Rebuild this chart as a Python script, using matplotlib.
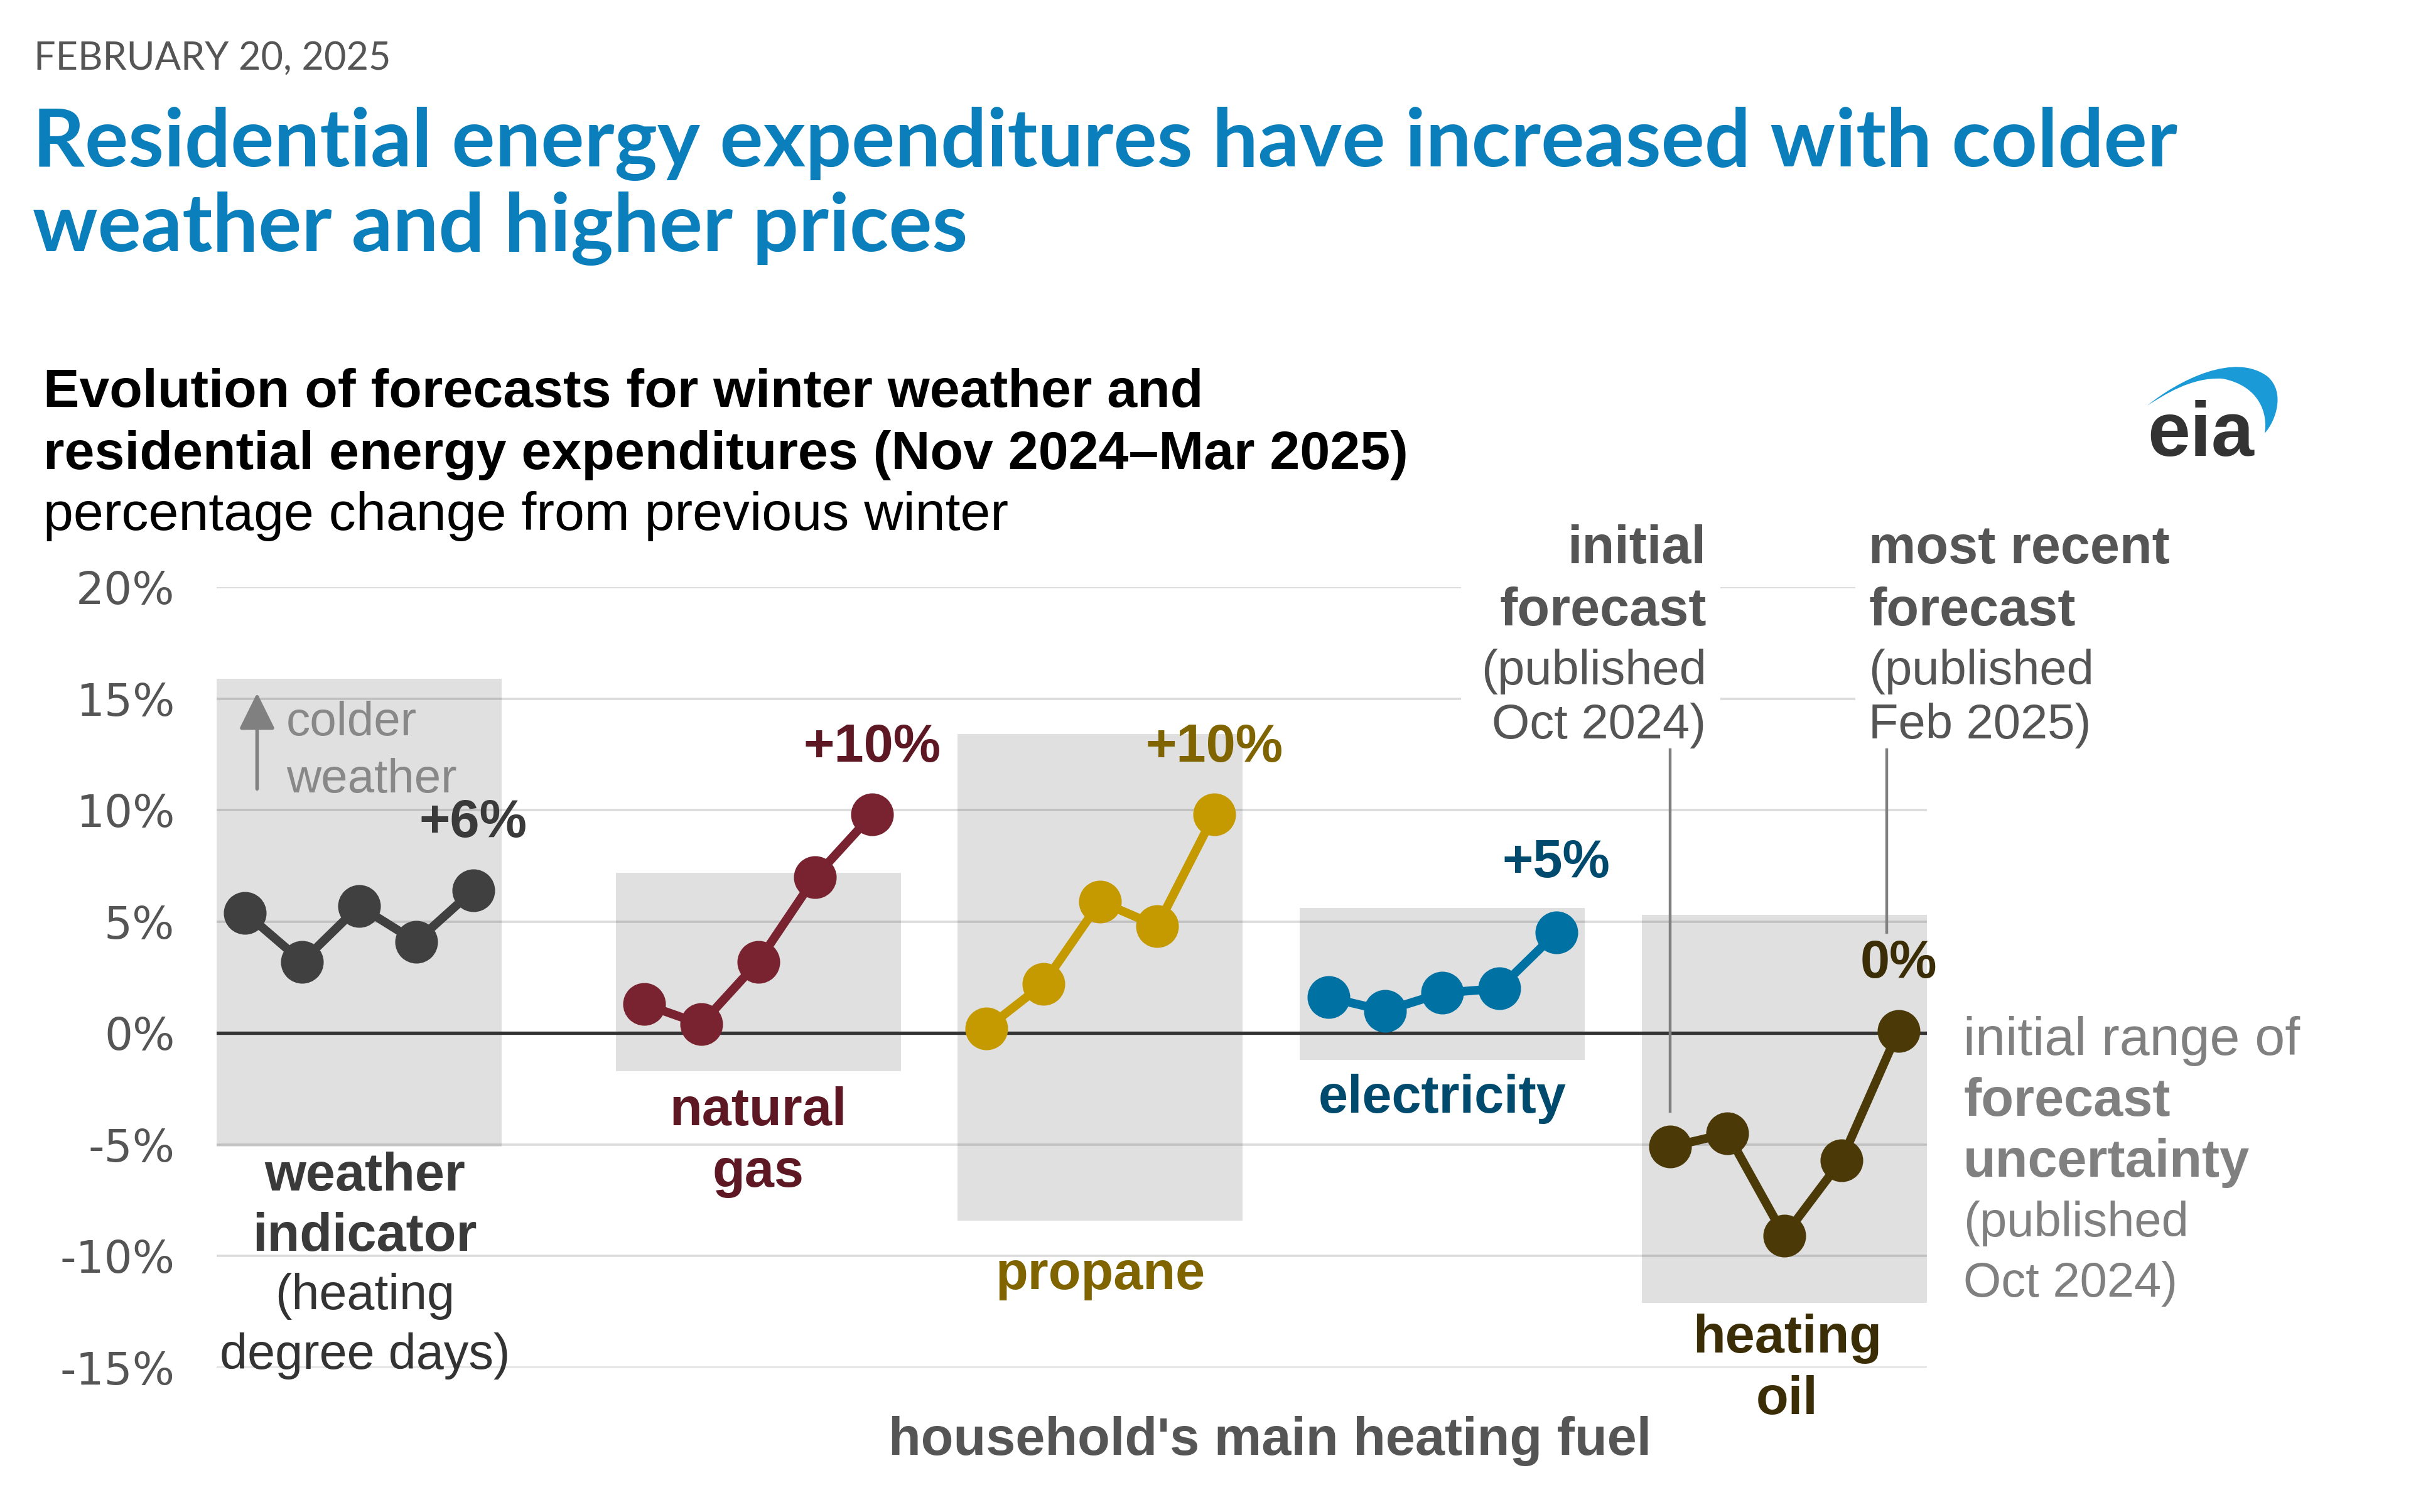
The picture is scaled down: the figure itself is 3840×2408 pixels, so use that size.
import matplotlib
matplotlib.use("Agg")
import matplotlib.pyplot as plt
from matplotlib.patches import Rectangle, PathPatch
from matplotlib.path import Path

# ---------------- data ----------------
group_names = ["weather indicator", "natural gas", "propane", "electricity", "heating oil"]
weather = [5.4, 3.2, 5.7, 4.1, 6.4]
natural_gas = [1.3, 0.4, 3.2, 7.0, 9.8]
propane = [0.2, 2.2, 5.9, 4.8, 9.8]
electricity = [1.6, 1.0, 1.8, 2.0, 4.5]
heating_oil = [-5.1, -4.5, -9.1, -5.7, 0.1]
range_low = [-5.1, -1.7, -8.4, -1.2, -12.1]
range_high = [15.9, 7.2, 13.4, 5.6, 5.3]
latest_labels = ["+6%", "+10%", "+10%", "+5%", "0%"]
y_ticks = [20, 15, 10, 5, 0, -5, -10, -15]
y_tick_labels = ["20%", "15%", "10%", "5%", "0%", "-5%", "-10%", "-15%"]

series = [weather, natural_gas, propane, electricity, heating_oil]

# ---------------- style ----------------
W, H, DPI = 3840, 2408, 200
line_colors = ["#404040", "#7a2330", "#c49a00", "#0071a3", "#4b3a08"]
text_colors = ["#3a3a3a", "#5e1824", "#7f6400", "#004a6e", "#3b2d05"]
BODY = ["Liberation Sans", "DejaVu Sans"]
gap_before = [0, 2, 1, 1, 1]
npts = 5
FS_BOLD = 30.5
FS_NORM = 28.5

fig = plt.figure(figsize=(W / DPI, H / DPI), dpi=DPI)
fig.patch.set_facecolor("white")

# main axes positioned in pixel space of the reference
left, right, top, bottom = 345, 3069, 935, 2178
ax = fig.add_axes([left / W, 1 - bottom / H, (right - left) / W, (bottom - top) / H])
ax.set_xlim(-0.5, 29.5)
ax.set_ylim(-15, 20)
ax.set_facecolor("none")
for s in ax.spines.values():
    s.set_visible(False)
ax.set_xticks([])
ax.set_yticks(y_ticks)
ax.set_yticklabels(y_tick_labels, fontfamily="DejaVu Sans", fontsize=25.5, color="#555555")
ax.tick_params(axis="y", length=0, pad=24)

# group x positions
starts = []
pos = 0
for g in gap_before:
    pos += g
    starts.append(pos)
    pos += npts

# uncertainty boxes
for st, lo, hi in zip(starts, range_low, range_high):
    ax.add_patch(Rectangle((st - 0.5, lo), npts, hi - lo, facecolor="#e0e0e0",
                           edgecolor="none", zorder=1))

# gridlines
for yt in y_ticks:
    if yt == 0:
        continue
    ax.axhline(yt, color="black", alpha=0.14, lw=1.3, zorder=2)
ax.axhline(0, color="#333333", lw=1.9, zorder=3)

# white masks behind top-right annotation blocks
ax.add_patch(Rectangle((21.33, 12.9), 4.55, 10, facecolor="white", edgecolor="none",
                       zorder=2.5, clip_on=False))
ax.add_patch(Rectangle((28.24, 12.9), 1.4, 10, facecolor="white", edgecolor="none",
                       zorder=2.5, clip_on=False))

# series lines
for st, vals, c in zip(starts, series, line_colors):
    xs = [st + i for i in range(len(vals))]
    ax.plot(xs, vals, color=c, lw=5, marker="o", ms=23.5, zorder=5,
            solid_capstyle="round", clip_on=False)

# latest-value labels
label_dy = [3.0, 3.0, 3.0, 3.1, 3.0]
for st, vals, lab, c, dy in zip(starts, series, latest_labels, text_colors, label_dy):
    ax.text(st + len(vals) - 1, vals[-1] + dy, lab, ha="center", va="center",
            fontsize=FS_BOLD, fontweight="bold", color=c, family=BODY, zorder=6)

# category labels
def lines(x, y0, items, ha="center", step=2.76):
    for k, (txt, w, c) in enumerate(items):
        fs = FS_BOLD if w == "bold" else FS_NORM
        ax.text(x, y0 - k * step, txt, ha=ha, va="center", fontsize=fs,
                fontweight=w, color=c, family=BODY, zorder=6)

lines(starts[0] + 2.1, -6.45, [("weather", "bold", text_colors[0]),
                               ("indicator", "bold", text_colors[0]),
                               ("(heating", "normal", "#333333"),
                               ("degree days)", "normal", "#333333")], step=2.68)
lines(starts[1] + 2.0, -3.5, [("natural", "bold", text_colors[1]),
                              ("gas", "bold", text_colors[1])])
lines(starts[2] + 2.0, -10.85, [("propane", "bold", text_colors[2])])
lines(starts[3] + 2.0, -2.95, [("electricity", "bold", text_colors[3])])
lines(starts[4] + 2.05, -13.7, [("heating", "bold", text_colors[4]),
                                ("oil", "bold", text_colors[4])])

ax.text(17.98, -18.3, "household's main heating fuel", ha="center", va="center",
        fontsize=FS_BOLD, fontweight="bold", color="#555555", family=BODY)

# colder weather arrow
ax.annotate("", xy=(0.21, 15.25), xytext=(0.21, 10.95),
            arrowprops=dict(arrowstyle="-|>,head_length=0.85,head_width=0.42",
                            mutation_scale=21, color="#808080", lw=2.0,
                            shrinkA=0, shrinkB=0), zorder=6)
ax.text(0.72, 13.9, "colder", ha="left", va="center", fontsize=27.5, color="#888888",
        family=BODY, zorder=6)
ax.text(0.72, 11.35, "weather", ha="left", va="center", fontsize=27.5, color="#888888",
        family=BODY, zorder=6)

# forecast annotations (top right)
gray_dark = "#555555"
ann_y = [21.7, 18.9, 16.2, 13.8]
init_lines = [("initial", "bold", FS_BOLD), ("forecast", "bold", FS_BOLD),
              ("(published", "normal", 28), ("Oct 2024)", "normal", 28)]
recent_lines = [("most recent", "bold", FS_BOLD), ("forecast", "bold", FS_BOLD),
                ("(published", "normal", 28), ("Feb 2025)", "normal", 28)]
for y, (t, w, fs) in zip(ann_y, init_lines):
    ax.text(25.63, y, t, ha="right", va="center", fontsize=fs, fontweight=w,
            color=gray_dark, family=BODY, zorder=6)
for y, (t, w, fs) in zip(ann_y, recent_lines):
    ax.text(28.48, y, t, ha="left", va="center", fontsize=fs, fontweight=w,
            color=gray_dark, family=BODY, zorder=6)

# leader lines
ax.plot([starts[4], starts[4]], [12.7, heating_oil[0] + 1.6], color="#808080",
        lw=1.6, zorder=4, clip_on=False)
ax.plot([starts[4] + 3.8, starts[4] + 3.8], [12.7, 4.5], color="#808080",
        lw=1.6, zorder=4, clip_on=False)

# range annotation (right)
rng = [("initial range of", "normal", 31), ("forecast", "bold", FS_BOLD),
       ("uncertainty", "bold", FS_BOLD), ("(published", "normal", 28),
       ("Oct 2024)", "normal", 28)]
for k, (t, w, fs) in enumerate(rng):
    ax.text(30.14, -0.37 - k * 2.72, t, ha="left", va="center", fontsize=fs,
            fontweight=w, color="#808080", family=BODY)

# ---------------- header ----------------
fig.text(54 / W, 1 - 93 / H, "FEBRUARY 20, 2025", ha="left", va="center",
         fontsize=22, color="#555555", family=["Lato", "DejaVu Sans"])
fig.text(52 / W, 1 - 265 / H, "Residential energy expenditures have increased with colder",
         ha="left", va="baseline", fontsize=46.5, fontweight="bold", color="#0b7fbb",
         family=["Lato", "DejaVu Sans"])
fig.text(52 / W, 1 - 400 / H, "weather and higher prices",
         ha="left", va="baseline", fontsize=46.5, fontweight="bold", color="#0b7fbb",
         family=["Lato", "DejaVu Sans"])
fig.text(69 / W, 1 - 626 / H, "Evolution of forecasts for winter weather and",
         ha="left", va="center", fontsize=31, fontweight="bold", color="black", family=BODY)
fig.text(69 / W, 1 - 725 / H, "residential energy expenditures (Nov 2024\u2013Mar 2025)",
         ha="left", va="center", fontsize=31, fontweight="bold", color="black", family=BODY)
fig.text(69 / W, 1 - 822 / H, "percentage change from previous winter",
         ha="left", va="center", fontsize=31, color="black", family=BODY)

# eia logo
ov = fig.add_axes([0, 0, 1, 1], zorder=-1)
ov.set_xlim(0, W)
ov.set_ylim(H, 0)
ov.axis("off")
verts = [(3420, 646), (3470, 605), (3560, 560), (3612, 600),
         (3640, 625), (3625, 670), (3607, 690),
         (3612, 660), (3600, 615), (3540, 603),
         (3490, 600), (3445, 630), (3420, 646)]
codes = [Path.MOVETO, Path.CURVE4, Path.CURVE4, Path.CURVE4,
         Path.CURVE4, Path.CURVE4, Path.CURVE4,
         Path.CURVE4, Path.CURVE4, Path.CURVE4,
         Path.CURVE4, Path.CURVE4, Path.CURVE4]
ov.add_patch(PathPatch(Path(verts, codes), facecolor="#1a9ad6", edgecolor="none"))
ov.text(3420, 726, "eia", ha="left", va="baseline", fontsize=44, fontweight="bold",
        color="#333333", family=BODY)

fig.savefig("out.png", dpi=DPI, facecolor="white")
